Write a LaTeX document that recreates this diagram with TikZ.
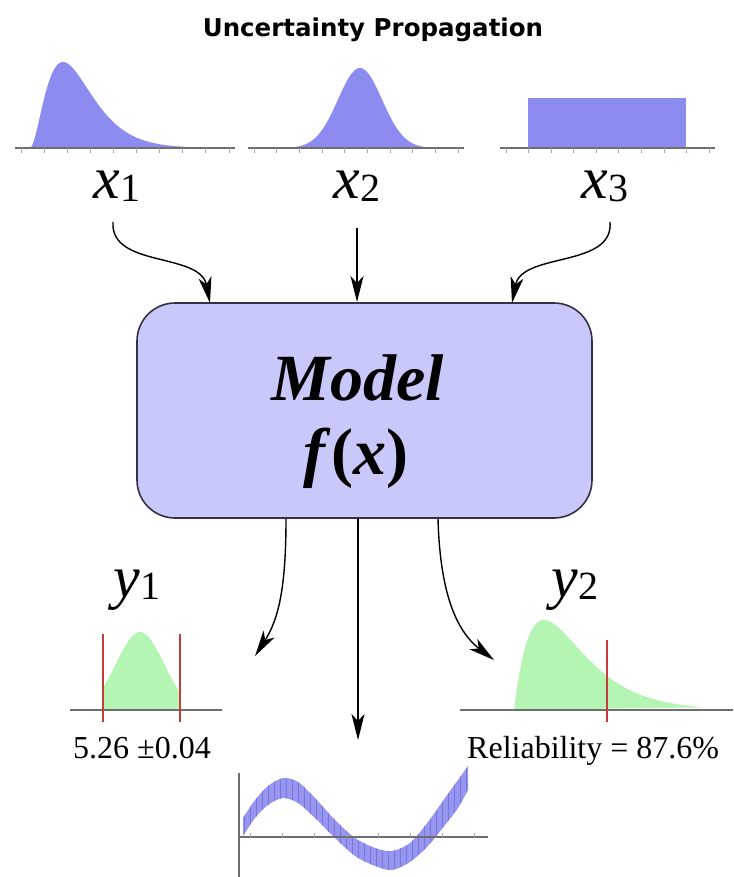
\documentclass[tikz,border=0pt]{standalone}
\usepackage{fontspec}
\setmainfont{Liberation Serif}
\newfontfamily\titlefont{DejaVu Sans}
\usetikzlibrary{arrows.meta}
\definecolor{distblue}{RGB}{140,140,240}
\definecolor{boxfill}{RGB}{200,200,250}
\definecolor{boxline}{RGB}{50,50,70}
\definecolor{distgreen}{RGB}{180,245,180}
\definecolor{limred}{RGB}{200,60,60}
\definecolor{axisgray}{RGB}{110,110,110}
\definecolor{bandblue}{RGB}{150,150,240}
\definecolor{hatchblue}{RGB}{120,120,220}
\newcommand\varlabel[2]{{\fontsize{60}{60}\selectfont\itshape #1}\raisebox{-0.28em}{\fontsize{40}{40}\selectfont #2}}
\tikzset{
  axisline/.style={draw=axisgray, line width=1.2pt},
  tickline/.style={draw=axisgray!60, line width=0.8pt},
  limline/.style={draw=limred, line width=1.2pt},
  flowarrow/.style={draw=black, line width=1.4pt, -{Stealth[length=26pt,width=13pt,inset=7pt]}},
  modelbox/.style={draw=boxline, line width=1.6pt, fill=boxfill, rounded corners=38pt, minimum width=455pt, minimum height=215pt},
  varnode/.style={anchor=base, inner sep=0pt},
  valnode/.style={inner sep=0pt, font=\fontsize{32}{32}\selectfont}
}
\begin{document}
\begin{tikzpicture}[x=1pt,y=-1pt]
\useasboundingbox (0,0) rectangle (733,877);
\fill[white] (0,0) rectangle (733,877);

% title
\node[inner sep=0pt, font=\titlefont\bfseries\fontsize{24.5}{24.5}\selectfont] (title) at (373,30) {Uncertainty Propagation};

% input distributions
\fill[distblue] plot[domain=30:205, samples=90] (\x, {148-86*((\x-30)/33)*((\x-30)/33)*exp(2-2*(\x-30)/33)}) -- cycle;
\fill[distblue] plot[domain=285:440, samples=80] (\x, {148-80*exp(-((\x-360)*(\x-360))/(2*22*22))}) -- cycle;
\fill[distblue] (528,98) rectangle (686,148);
\foreach \a/\b in {15/235, 248/464, 500/715}{
  \draw[axisline] (\a,148) -- (\b,148);
  \foreach \t in {0,...,9}{\draw[tickline] ({\a+6+\t*(\b-\a-12)/9},148) -- ++(0,5);}
}

% input labels
\node[varnode] (x1) at (117,199) {\varlabel{x}{1}};
\node[varnode] (x2) at (357,199) {\varlabel{x}{2}};
\node[varnode] (x3) at (605,199) {\varlabel{x}{3}};

% model
\node[modelbox] (model) at (364.5,410.5) {};
\node[inner sep=0pt, font=\fontsize{66}{66}\selectfont\bfseries\itshape] (mtext) at (358,378) {Model};
\node[inner sep=0pt, font=\fontsize{66}{66}\selectfont\bfseries] (ftext) at (356,458) {\textit{f}(\textit{x})};

\coordinate (in1) at (210,303);
\coordinate (in2) at (357,302);
\coordinate (in3) at (512,303);
\coordinate (x1s) at (113,222);
\coordinate (x2s) at (357,228);
\coordinate (x3s) at (610,222);
\draw[flowarrow] (x1s) .. controls (110,268) and (200,252) .. (in1);
\draw[flowarrow] (x2s) -- (in2);
\draw[flowarrow] (x3s) .. controls (614,268) and (522,252) .. (in3);

% outputs
\coordinate (o1) at (286,519);
\coordinate (o2) at (358,519);
\coordinate (o3) at (438,519);
\coordinate (t1) at (255,656);
\coordinate (t2) at (358,740);
\coordinate (t3) at (494,660);
\draw[flowarrow] (o1) .. controls (286,590) and (278,620) .. (t1);
\draw[flowarrow] (o2) -- (t2);
\draw[flowarrow] (o3) .. controls (440,590) and (455,630) .. (t3);

% y1 distribution
\fill[distgreen] (103,710) -- plot[domain=103:180, samples=60] (\x, {710-78*exp(-((\x-140)*(\x-140))/(2*23.5*23.5))}) -- (180,710) -- cycle;
\draw[axisline] (70,710) -- (222,710);
\draw[limline] (103,634) -- (103,722);
\draw[limline] (180,634) -- (180,722);
\node[varnode] (y1) at (137,597) {\varlabel{y}{1}};
\node[valnode, anchor=base] (v1) at (142,758) {5.26 ±0.04};

% y2 distribution
\fill[distgreen] plot[domain=514:705, samples=90] (\x, {710-90*((\x-514)/30)*exp(1-(\x-514)/30)}) -- cycle;
\draw[axisline] (460,710) -- (733,710);
\draw[limline] (607,640) -- (607,722);
\node[varnode] (y2) at (575,597) {\varlabel{y}{2}};
\node[valnode, anchor=base west] (v2) at (467,758) {Reliability = 87.6\%};

% bottom response band
\begin{scope}
\clip plot[smooth] coordinates {(243,818) (255,800) (268,786) (283,778) (298,782) (315,798) (335,820) (355,838) (375,848) (392,851) (410,843) (428,822) (445,798) (458,780) (468,766)}
 -- plot[smooth] coordinates {(468,790) (458,808) (445,825) (428,846) (410,862) (392,870) (375,866) (355,856) (335,838) (315,818) (298,803) (283,798) (268,805) (255,818) (243,836)} -- cycle;
\fill[bandblue] (240,760) rectangle (470,877);
\foreach \k in {0,...,38}{\draw[hatchblue, line width=0.8pt] ({244+\k*6},760) -- ++(0,117);}
\end{scope}
\draw[axisline] (239,773) -- (239,877);
\draw[axisline] (239,837) -- (488,837);
\foreach \t in {0,...,7}{\draw[tickline] ({250+\t*32},837) -- ++(0,-4);}
\end{tikzpicture}
\end{document}
